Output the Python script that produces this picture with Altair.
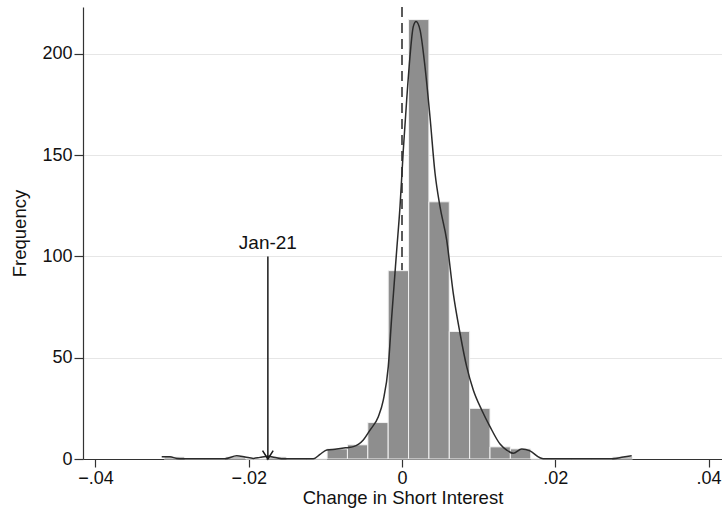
import altair as alt
import pandas as pd

# Histogram of monthly change in short interest (23 equal-width bins)
BIN_START = -0.03103
BIN_WIDTH = 0.002657
counts = [1, 0, 0, 1, 0, 1, 0, 0, 5, 7, 18, 93, 217, 127, 63, 25, 6, 5, 0, 0, 0, 0, 1]

# Kernel density estimate, scaled to frequency
kde_x = [-0.03135, -0.03027, -0.02939, -0.02853, -0.02309, -0.02157, -0.02048,
         -0.01940, -0.01853, -0.01744, -0.01635, -0.01549, -0.01157, -0.01070,
         -0.00982, -0.00852, -0.00721, -0.00635, -0.00505, -0.00417, -0.00309,
         -0.00244, -0.00179, -0.00134, -0.00069, -0.00026, 0.00017, 0.00061,
         0.00104, 0.00147, 0.00183, 0.00235, 0.00300, 0.00365, 0.00431, 0.00496,
         0.00583, 0.00669, 0.00757, 0.00844, 0.00930, 0.01040, 0.01148, 0.01279,
         0.01366, 0.01452, 0.01562, 0.01670, 0.01800, 0.01843, 0.02757, 0.02887,
         0.02997]
kde_y = [1.1, 1.1, 0.3, 0.1, 0.1, 1.6, 1.0, 0.3, 0.8, 1.3, 0.6, 0.1, 0.1, 2.3,
         4.4, 4.9, 5.6, 6.1, 9.4, 14.3, 20.9, 29.1, 45.6, 70.3, 103.2, 124.6,
         152.6, 177.3, 198.7, 213.5, 216.0, 211.9, 193.7, 169.0, 141.1, 124.6,
         108.1, 81.8, 62.1, 45.6, 34.1, 24.2, 16.0, 7.4, 4.4, 2.8, 4.9, 4.0, 0.6,
         0.1, 0.1, 1.0, 1.6]

# Annotated month
note_label = "Jan-21"
note_x = -0.0175
note_top = 100

x_ticks = [-0.04, -0.02, 0, 0.02, 0.04]
y_ticks = [0, 50, 100, 150, 200]
X_DOMAIN = [-0.04162, 0.04175]
Y_DOMAIN = [0, 223.2]

FONT = "Liberation Sans"

bars = pd.DataFrame({
    "lo": [BIN_START + i * BIN_WIDTH for i in range(len(counts))],
    "hi": [BIN_START + (i + 1) * BIN_WIDTH for i in range(len(counts))],
    "count": counts,
})
kde = pd.DataFrame({"x": kde_x, "y": kde_y})
note = pd.DataFrame({"x": [note_x], "top": [note_top], "base": [0], "label": [note_label]})

xscale = alt.Scale(domain=X_DOMAIN, nice=False, zero=False)
yscale = alt.Scale(domain=Y_DOMAIN, nice=False)

x_axis = alt.Axis(
    values=x_ticks,
    labelExpr="datum.value == 0 ? '0' : replace(format(datum.value, '.2f'), '0.', '.')",
    title="Change in Short Interest",
    grid=False,
    tickSize=8,
    labelPadding=2,
    titlePadding=1,
)
y_axis = alt.Axis(
    values=y_ticks,
    title="Frequency",
    grid=True,
    tickSize=9,
    labelPadding=2,
    titlePadding=12,
)

zero_line = alt.Chart(pd.DataFrame({"x": [0]})).mark_rule(
    color="#333333", strokeWidth=1.6, strokeDash=[10, 6]
).encode(
    x=alt.X("x:Q", scale=xscale, axis=x_axis),
    y=alt.value(0),
    y2=alt.value(452),
)

hist = alt.Chart(bars).mark_rect(
    color="#8e8e8e", stroke="#f2f2f2", strokeWidth=1
).encode(
    x=alt.X("lo:Q", scale=xscale, axis=x_axis),
    x2="hi:Q",
    y=alt.Y("count:Q", scale=yscale, axis=y_axis),
    y2=alt.datum(0),
)

density = alt.Chart(kde).mark_line(
    color="#2b2b2b", strokeWidth=1.5, interpolate="monotone"
).encode(
    x=alt.X("x:Q", scale=xscale),
    y=alt.Y("y:Q", scale=yscale),
)

arrow_shaft = alt.Chart(note).mark_rule(color="#1a1a1a", strokeWidth=1.5).encode(
    x=alt.X("x:Q", scale=xscale),
    y=alt.Y("top:Q", scale=yscale),
    y2="base:Q",
)

arrow_head = alt.Chart(note).mark_point(
    shape="M -0.64 -1 L 0 0 L 0.64 -1",
    size=276,
    filled=False,
    color="#1a1a1a",
    strokeWidth=1.5,
    opacity=1,
).encode(
    x=alt.X("x:Q", scale=xscale),
    y=alt.Y("base:Q", scale=yscale),
)

note_text = alt.Chart(note).mark_text(
    font=FONT, fontSize=19, color="#111111", baseline="bottom", dy=-3
).encode(
    x=alt.X("x:Q", scale=xscale),
    y=alt.Y("top:Q", scale=yscale),
    text="label:N",
)

chart = alt.layer(
    zero_line, hist, density, arrow_shaft, arrow_head, note_text
).properties(
    width=639,
    height=452,
    autosize=alt.AutoSizeParams(type="none"),
    padding={"left": 83, "top": 7, "right": 0, "bottom": 49},
    background="white",
).configure_view(
    stroke=None
).configure_axis(
    labelFont=FONT,
    titleFont=FONT,
    labelFontSize=18,
    titleFontSize=18.5,
    labelColor="#111111",
    titleColor="#111111",
    titleFontWeight="normal",
    domainColor="#333333",
    tickColor="#333333",
    domainWidth=1.2,
    tickWidth=1.2,
    gridColor="#e6e6e6",
    gridWidth=1.2,
)

chart.save("out.html", embed_options={"renderer": "svg", "actions": False})
